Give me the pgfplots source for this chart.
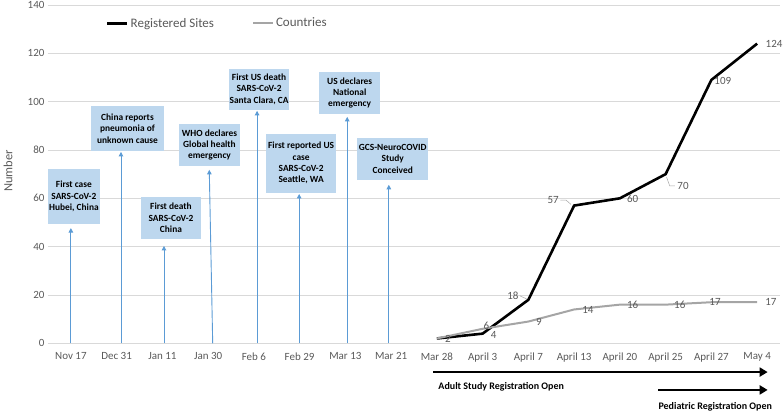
\documentclass[border=0pt]{standalone}
\usepackage{fontspec}
\setmainfont{Carlito}
\usepackage{pgfplots}
\pgfplotsset{compat=1.18}
\usetikzlibrary{arrows.meta}
\definecolor{txtgray}{HTML}{595959}
\definecolor{gridgray}{HTML}{D9D9D9}
\definecolor{ctrygray}{HTML}{A5A5A5}
\definecolor{boxblue}{HTML}{BDD7EE}
\definecolor{arrblue}{HTML}{5B9BD5}
\definecolor{leadgray}{HTML}{A6A6A6}

\begin{document}
\begin{tikzpicture}[
  evbox/.style={fill=boxblue, inner sep=0pt, align=center, font=\bfseries\fontsize{9.4}{11.3}\selectfont},
  lbl/.style={font=\fontsize{11}{13}\selectfont, text=txtgray, inner sep=0pt},
  evarrow/.style={arrblue, line width=0.9pt, -{Triangle[width=4.5pt,length=4.5pt]}},
  bigarrow/.style={black, line width=2.8pt, -{Triangle[width=9pt,length=8pt]}},
]
\begin{axis}[
  scale only axis, width=732pt, height=338.3pt,
  xmin=-0.5, xmax=15.5, ymin=0, ymax=140,
  xtick={0,...,15},
  xticklabels={Nov 17, Dec 31, Jan 11, Jan 30, Feb 6, Feb 29, Mar 13, Mar 21,
    Mar 28, April 3, April 7, April 13, April 20, April 25, April 27, May 4},
  ytick={0,20,...,140},
  ymajorgrids, grid style={gridgray, line width=0.8pt},
  axis line style={draw=none},
  major tick length=0pt,
  tick label style={font=\fontsize{11}{13}\selectfont, text=txtgray},
  xticklabel style={yshift=-6pt},
  /pgf/number format/assume math mode=true,
  ylabel={Number},
  ylabel style={font=\fontsize{12.5}{14}\selectfont, text=txtgray,
    at={(axis description cs:-0.0546,0.509)}, anchor=center},
  clip=false,
  legend columns=2,
  legend style={at={(0.075,0.946)}, anchor=west, draw=none, fill=none,
    font=\fontsize{13}{15}\selectfont, text=txtgray,
    /tikz/every even column/.append style={column sep=36pt}},
  legend image code/.code={\draw[#1] (0pt,0pt) -- (20pt,0pt);},
]
\addplot[black, line width=2.6pt] coordinates {
  (8,2) (9,4) (10,18) (11,57) (12,60) (13,70) (14,109) (15,124)};
\addlegendentry{Registered Sites}
\addplot[ctrygray, line width=2pt] coordinates {
  (8,2) (9,6) (10,9) (11,14) (12,16) (13,16) (14,17) (15,17)};
\addlegendentry{Countries}

% event arrows
\draw[evarrow] (axis cs:0,0) -- (axis cs:0,47.7);
\draw[evarrow] (axis cs:1.095,0) -- (axis cs:1.095,79.2);
\draw[evarrow] (axis cs:2.035,0) -- (axis cs:2.035,40.3);
\draw[evarrow] (axis cs:3.1,0) -- (axis cs:3.025,71.8);
\draw[evarrow] (axis cs:4.07,0) -- (axis cs:4.07,96.2);
\draw[evarrow] (axis cs:4.99,0) -- (axis cs:4.99,61.8);
\draw[evarrow] (axis cs:6.04,0) -- (axis cs:6.04,93.7);
\draw[evarrow] (axis cs:6.95,0) -- (axis cs:6.95,65.6);

% event boxes
\node[evbox, minimum width=52pt, minimum height=55pt] at (axis cs:0.066,60.8) {First case\\SARS-CoV-2\\Hubei, China};
\node[evbox, minimum width=73pt, minimum height=45pt] at (axis cs:1.237,88.9) {China reports\\pneumonia of\\unknown cause};
\node[evbox, minimum width=60pt, minimum height=42pt] at (axis cs:2.188,51.9) {First death\\SARS-CoV-2\\China};
\node[evbox, minimum width=61pt, minimum height=42pt] at (axis cs:3.030,82.1) {WHO declares\\Global health\\emergency};
\node[evbox, minimum width=60pt, minimum height=41pt] at (axis cs:4.114,105.1) {First US death\\SARS-CoV-2\\Santa Clara, CA};
\node[evbox, minimum width=70pt, minimum height=59pt] at (axis cs:5.033,74.5) {First reported US\\case\\SARS-CoV-2\\Seattle, WA};
\node[evbox, minimum width=61pt, minimum height=42pt] at (axis cs:6.094,103.6) {US declares\\National\\emergency};
\node[evbox, minimum width=71pt, minimum height=42pt] at (axis cs:7.035,76.3) {GCS-NeuroCOVID\\Study\\Conceived};

% data labels, registered sites
\node[lbl] at (axis cs:8.24,1.7) {2};
\node[lbl] at (axis cs:9.24,3.4) {4};
\node[lbl] at (axis cs:9.66,19.6) {18};
\draw[leadgray, line width=0.5pt] (axis cs:9.82,19.6) -- (axis cs:9.96,18.4);
\node[lbl] at (axis cs:10.54,59.3) {57};
\draw[leadgray, line width=0.5pt] (axis cs:10.7,59.3) -- (axis cs:10.82,59.3) -- (axis cs:10.93,57.5);
\node[lbl] at (axis cs:12.28,59.8) {60};
\node[lbl] at (axis cs:13.38,65.1) {70};
\draw[leadgray, line width=0.5pt] (axis cs:13.02,68.8) -- (axis cs:13.09,65.1) -- (axis cs:13.2,65.1);
\node[lbl] at (axis cs:14.25,108.6) {109};
\node[lbl] at (axis cs:15.37,123.9) {124};
% data labels, countries
\node[lbl] at (axis cs:9.08,7.4) {6};
\node[lbl] at (axis cs:10.23,8.8) {9};
\node[lbl] at (axis cs:11.30,13.8) {14};
\node[lbl] at (axis cs:12.28,15.9) {16};
\node[lbl] at (axis cs:13.31,15.9) {16};
\node[lbl] at (axis cs:14.08,17.1) {17};
\node[lbl] at (axis cs:15.30,17.1) {17};

% registration arrows
\draw[bigarrow] (axis cs:7.92,-11.9) -- (axis cs:15.23,-11.9);
\node[anchor=west, inner sep=0pt, font=\bfseries\fontsize{10}{12}\selectfont] at (axis cs:8.03,-18.1) {Adult Study Registration Open};
\draw[bigarrow] (axis cs:12.84,-19.3) -- (axis cs:15.23,-19.3);
\node[anchor=west, inner sep=0pt, font=\bfseries\fontsize{10}{12}\selectfont] at (axis cs:12.84,-26.4) {Pediatric Registration Open};
\end{axis}
\pgfresetboundingbox
\path[use as bounding box] ([shift={(-48pt,-69.7pt)}]current axis.south west) rectangle ([shift={(4pt,5pt)}]current axis.north east);
\end{tikzpicture}
\end{document}
